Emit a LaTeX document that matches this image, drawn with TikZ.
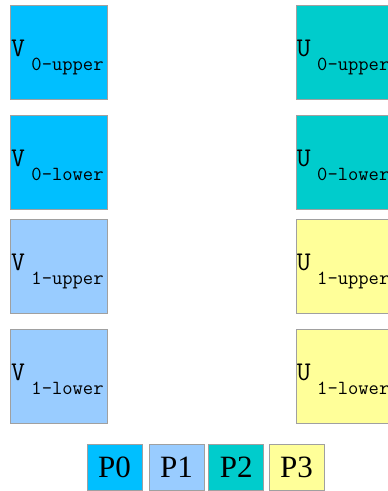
\documentclass[tikz,border=0pt]{standalone}
\usepackage{fontspec}
\setmainfont{Liberation Serif}

\definecolor{pzero}{RGB}{0,191,255}
\definecolor{pone}{RGB}{153,204,255}
\definecolor{ptwo}{RGB}{0,204,204}
\definecolor{pthree}{RGB}{255,255,153}
\definecolor{edgegray}{RGB}{160,160,160}

\newcommand{\blocksub}[1]{\hspace{6.5pt}\raisebox{-14pt}{\fontsize{20}{20}\selectfont #1}}

\begin{document}
\begin{tikzpicture}[x=1pt, y=-1pt,
        block/.style={draw=edgegray, line width=0.8pt, minimum width=97pt, minimum height=94pt, inner sep=0pt},
        key/.style={draw=edgegray, line width=0.8pt, minimum width=55pt, minimum height=46pt, inner sep=0pt, font=\fontsize{31}{31}\selectfont},
        blockname/.style={anchor=base west, inner sep=0pt, font=\ttfamily\fontsize{27}{27}\selectfont}]
        \useasboundingbox (0,0) rectangle (388,491);
        % V blocks
        \node [block, fill=pzero] (v0u) at (58.75,52) {};
        \node [block, fill=pzero] (v0l) at (58.75,162) {};
        \node [block, fill=pone] (v1u) at (58.75,266.5) {};
        \node [block, fill=pone] (v1l) at (58.75,376.5) {};
        \node [blockname] at ([xshift=1pt, yshift=-4pt]v0u.west) {V\blocksub{0-upper}};
        \node [blockname] at ([xshift=1pt, yshift=-4pt]v0l.west) {V\blocksub{0-lower}};
        \node [blockname] at ([xshift=1pt, yshift=-4pt]v1u.west) {V\blocksub{1-upper}};
        \node [blockname] at ([xshift=1pt, yshift=-4pt]v1l.west) {V\blocksub{1-lower}};
        % U blocks
        \node [block, fill=ptwo] (u0u) at (344.5,52) {};
        \node [block, fill=ptwo] (u0l) at (344.5,162) {};
        \node [block, fill=pthree] (u1u) at (344.5,266.5) {};
        \node [block, fill=pthree] (u1l) at (344.5,376.5) {};
        \node [blockname] at ([xshift=1pt, yshift=-4pt]u0u.west) {U\blocksub{0-upper}};
        \node [blockname] at ([xshift=1pt, yshift=-4pt]u0l.west) {U\blocksub{0-lower}};
        \node [blockname] at ([xshift=1pt, yshift=-4pt]u1u.west) {U\blocksub{1-upper}};
        \node [blockname] at ([xshift=1pt, yshift=-4pt]u1l.west) {U\blocksub{1-lower}};
        % legend
        \node [key, fill=pzero] (p0) at (114.5,467.7) {P0};
        \node [key, fill=pone] (p1) at (176.5,467.7) {P1};
        \node [key, fill=ptwo] (p2) at (236.3,467.7) {P2};
        \node [key, fill=pthree] (p3) at (296.5,467.7) {P3};
\end{tikzpicture}
\end{document}
